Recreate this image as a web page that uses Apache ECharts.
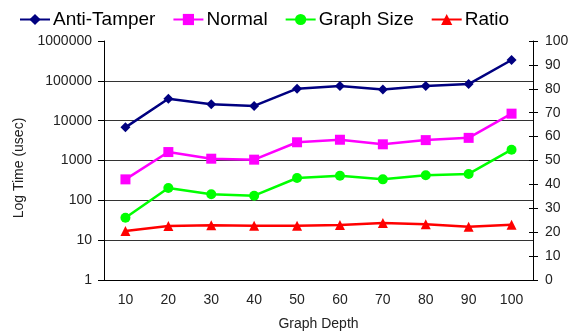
<!DOCTYPE html>
<html>
<head>
<meta charset="utf-8">
<script src="https://cdn.jsdelivr.net/npm/echarts@6/dist/echarts.min.js"></script>
<style>
  html, body { margin: 0; padding: 0; background: #fff; }
  #chart { width: 578px; height: 333px; }
</style>
</head>
<body>
<div id="chart"></div>
<script>
// data
const depths = ['10', '20', '30', '40', '50', '60', '70', '80', '90', '100'];
const antiTamper = [6800, 35600, 25800, 23400, 63600, 74500, 61000, 74500, 83000, 333000];
const normal = [336, 1630, 1110, 1050, 2870, 3320, 2550, 3250, 3700, 15000];
const graphSize = [36.6, 204, 142, 131, 363, 415, 336, 425, 460, 1870];
const ratio = [20.5, 22.6, 22.9, 22.7, 22.7, 23.0, 23.8, 23.3, 22.3, 23.1];

const font = 'Arial, "Liberation Sans", sans-serif';
const myChart = echarts.init(document.getElementById('chart'));

function lineSerie(name, data, color, symbol, yAxisIndex) {
    return {
        name, type: 'line', data, yAxisIndex,
        symbol, symbolSize: 10,
        lineStyle: { color, width: 2.5 },
        itemStyle: { color },
        emphasis: { disabled: true },
        animation: false
    };
}

const option = {
    backgroundColor: '#fff',
    textStyle: { fontFamily: font },
    legend: {
        left: 14, top: 5,
        itemWidth: 30, itemHeight: 14, itemGap: 17,
        textStyle: { fontSize: 19, color: '#000', fontFamily: font, padding: [0, 0, 0, -2] },
        data: ['Anti-Tamper', 'Normal', 'Graph Size', 'Ratio']
    },
    grid: { left: 104, right: 45, top: 41, bottom: 53, outerBoundsMode: 'none' },
    xAxis: {
        type: 'category',
        data: depths,
        name: 'Graph Depth',
        nameLocation: 'middle',
        nameGap: 37,
        nameTextStyle: { fontSize: 14, color: '#222', fontFamily: font },
        axisLine: { lineStyle: { color: '#000', width: 1 } },
        axisTick: { length: 5, lineStyle: { color: '#000' } },
        axisLabel: { fontSize: 14, color: '#222', margin: 13, fontFamily: font }
    },
    yAxis: [{
        type: 'log',
        logBase: 10,
        min: 1, max: 1000000,
        name: 'Log Time (usec)',
        nameLocation: 'middle',
        nameGap: 74,
        nameTextStyle: { fontSize: 14, color: '#222', fontFamily: font, padding: [0, 0, 0, -15] },
        axisLine: { show: true, lineStyle: { color: '#000' } },
        axisTick: { show: true, length: 6, lineStyle: { color: '#000' } },
        axisLabel: { fontSize: 14, color: '#222', margin: 12, fontFamily: font,
            formatter: v => String(Math.round(v)) },
        splitLine: { show: true, showMaxLine: false, showMinLine: false,
            lineStyle: { color: '#333', width: 1 } }
    }, {
        type: 'value',
        position: 'right',
        min: 0, max: 100, interval: 10,
        axisLine: { show: true, lineStyle: { color: '#000' } },
        axisTick: { show: true, length: 5, lineStyle: { color: '#000' } },
        axisLabel: { fontSize: 14, color: '#222', margin: 12, fontFamily: font },
        splitLine: { show: false }
    }, {
        // second copy of the right axis only for the inner half of the ticks
        type: 'value',
        position: 'right',
        min: 0, max: 100, interval: 10,
        axisLine: { show: false },
        axisTick: { show: true, inside: true, length: 4, lineStyle: { color: '#000' } },
        axisLabel: { show: false },
        splitLine: { show: false }
    }],
    series: [
        lineSerie('Anti-Tamper', antiTamper, '#000080', 'diamond', 0),
        lineSerie('Normal', normal, '#ff00ff', 'rect', 0),
        lineSerie('Graph Size', graphSize, '#00ff00', 'circle', 0),
        lineSerie('Ratio', ratio, '#ff0000', 'triangle', 1)
    ]
};

myChart.setOption(option);
</script>
</body>
</html>
